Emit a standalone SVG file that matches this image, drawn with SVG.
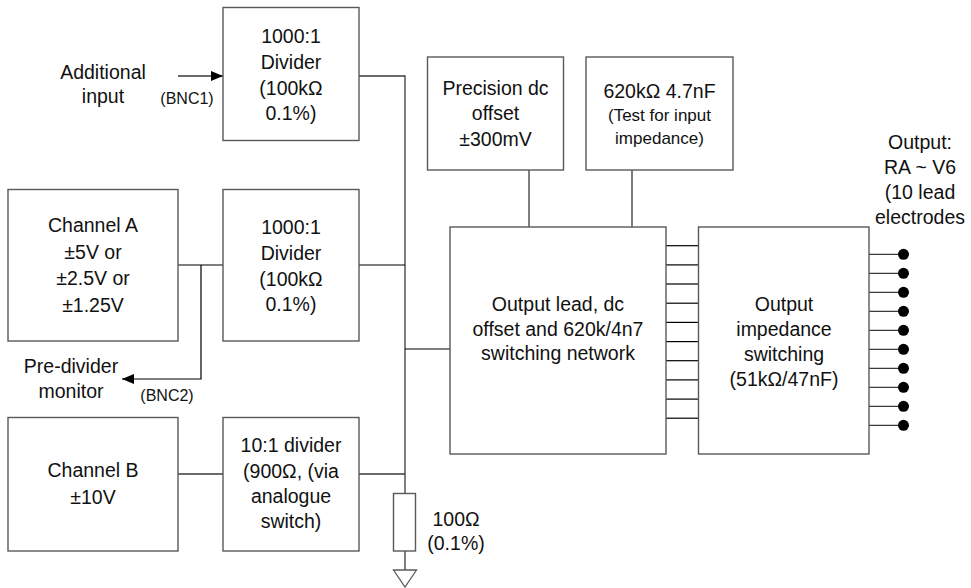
<svg xmlns="http://www.w3.org/2000/svg" width="971" height="588" viewBox="0 0 971 588">
<defs>
<style>
.box{fill:#fff;stroke:#595959;stroke-width:1.4}
.ln{fill:none;stroke:#3a3a3a;stroke-width:1.3}
.blk{fill:none;stroke:#000;stroke-width:1.2}
text{font-family:"Liberation Sans",Arial,sans-serif;font-size:19.5px;fill:#111;text-anchor:middle}
.sm{font-size:16px}
.md{font-size:17px}
.dot{fill:#000}
</style>
<marker id="arr" viewBox="0 0 12 10" refX="12" refY="5" markerWidth="12" markerHeight="10" markerUnits="userSpaceOnUse" orient="auto">
<path d="M0,0 L12,5 L0,10 z" fill="#000"/>
</marker>
</defs>
<rect width="971" height="588" fill="#fff"/>

<g id="connectors">
<line class="ln" x1="178" y1="76" x2="223" y2="76" marker-end="url(#arr)"/>
<polyline class="ln" points="359,76 405,76 405,493"/>
<line class="blk" x1="178" y1="265" x2="223" y2="265"/>
<polyline class="blk" points="201,265 201,379 122,379" marker-end="url(#arr)"/>
<line class="blk" x1="359" y1="265" x2="405" y2="265"/>
<line class="blk" x1="405" y1="349" x2="450" y2="349"/>
<line class="ln" x1="178" y1="474" x2="223" y2="474"/>
<line class="ln" x1="359" y1="474" x2="405" y2="474"/>
<line class="ln" x1="405" y1="551" x2="405" y2="570"/>
<line class="ln" x1="529" y1="170" x2="529" y2="227"/>
<line class="ln" x1="632" y1="170" x2="632" y2="227"/>
<g class="blk">
<line x1="666" y1="245.7" x2="698" y2="245.7"/>
<line x1="666" y1="264.9" x2="698" y2="264.9"/>
<line x1="666" y1="284" x2="698" y2="284"/>
<line x1="666" y1="303.2" x2="698" y2="303.2"/>
<line x1="666" y1="322.4" x2="698" y2="322.4"/>
<line x1="666" y1="341.6" x2="698" y2="341.6"/>
<line x1="666" y1="360.7" x2="698" y2="360.7"/>
<line x1="666" y1="379.9" x2="698" y2="379.9"/>
<line x1="666" y1="399.1" x2="698" y2="399.1"/>
<line x1="666" y1="418.2" x2="698" y2="418.2"/>
</g>
<g class="ln">
<line x1="869" y1="254.3" x2="903" y2="254.3"/>
<line x1="869" y1="273.3" x2="903" y2="273.3"/>
<line x1="869" y1="292.3" x2="903" y2="292.3"/>
<line x1="869" y1="311.3" x2="903" y2="311.3"/>
<line x1="869" y1="330.3" x2="903" y2="330.3"/>
<line x1="869" y1="349.3" x2="903" y2="349.3"/>
<line x1="869" y1="368.3" x2="903" y2="368.3"/>
<line x1="869" y1="387.3" x2="903" y2="387.3"/>
<line x1="869" y1="406.3" x2="903" y2="406.3"/>
<line x1="869" y1="425.3" x2="903" y2="425.3"/>
</g>
<g class="dot">
<circle cx="903.5" cy="254.3" r="5.5"/>
<circle cx="903.5" cy="273.3" r="5.5"/>
<circle cx="903.5" cy="292.3" r="5.5"/>
<circle cx="903.5" cy="311.3" r="5.5"/>
<circle cx="903.5" cy="330.3" r="5.5"/>
<circle cx="903.5" cy="349.3" r="5.5"/>
<circle cx="903.5" cy="368.3" r="5.5"/>
<circle cx="903.5" cy="387.3" r="5.5"/>
<circle cx="903.5" cy="406.3" r="5.5"/>
<circle cx="903.5" cy="425.3" r="5.5"/>
</g>
</g>

<g id="label-additional">
<text x="103" y="79">Additional</text>
<text x="103" y="103">input</text>
<text class="sm" x="187" y="104">(BNC1)</text>
</g>

<g id="divider1">
<rect class="box" x="223" y="7.5" width="136" height="133"/>
<text x="291" y="43">1000:1</text>
<text x="291" y="69">Divider</text>
<text x="291" y="95">(100kΩ</text>
<text x="291" y="120">0.1%)</text>
</g>

<g id="channelA">
<rect class="box" x="8" y="189.5" width="170" height="151.5"/>
<text x="93" y="232">Channel A</text>
<text x="93" y="259">±5V or</text>
<text x="93" y="285">±2.5V or</text>
<text x="93" y="311.5">±1.25V</text>
</g>

<g id="divider2">
<rect class="box" x="223" y="189.5" width="136" height="151.5"/>
<text x="291" y="234">1000:1</text>
<text x="291" y="260">Divider</text>
<text x="291" y="286">(100kΩ</text>
<text x="291" y="311">0.1%)</text>
</g>

<g id="label-predivider">
<text x="71" y="373">Pre-divider</text>
<text x="71" y="398">monitor</text>
<text class="sm" x="167" y="401">(BNC2)</text>
</g>

<g id="channelB">
<rect class="box" x="8" y="417.5" width="170" height="133.5"/>
<text x="93" y="477">Channel B</text>
<text x="93" y="504">±10V</text>
</g>

<g id="divider3">
<rect class="box" x="223" y="417.5" width="136" height="133.5"/>
<text x="291" y="452">10:1 divider</text>
<text x="291" y="478">(900Ω, (via</text>
<text x="291" y="503">analogue</text>
<text x="291" y="528">switch)</text>
</g>

<g id="resistor">
<rect class="box" x="393.5" y="493.5" width="22" height="57.5"/>
<text x="456" y="526">100Ω</text>
<text x="456" y="550">(0.1%)</text>
</g>

<g id="ground">
<path d="M393.5,570 L416.5,570 L405,587 z" fill="#fff" stroke="#595959" stroke-width="1.3"/>
</g>

<g id="precision">
<rect class="box" x="427.5" y="57" width="136" height="113"/>
<text x="495.5" y="95">Precision dc</text>
<text x="495.5" y="120">offset</text>
<text x="495.5" y="146">±300mV</text>
</g>

<g id="test620k">
<rect class="box" x="586" y="57" width="147" height="113"/>
<text x="659.5" y="98">620kΩ 4.7nF</text>
<text class="md" x="659.5" y="121">(Test for input</text>
<text class="md" x="659.5" y="144">impedance)</text>
</g>

<g id="outputlead">
<rect class="box" x="450" y="227" width="216" height="227"/>
<text x="558" y="311">Output lead, dc</text>
<text x="558" y="336">offset and 620k/4n7</text>
<text x="558" y="360">switching network</text>
</g>

<g id="outputimpedance">
<rect class="box" x="698.5" y="227" width="170.5" height="227"/>
<text x="784" y="311">Output</text>
<text x="784" y="336">impedance</text>
<text x="784" y="361">switching</text>
<text x="784" y="386">(51kΩ/47nF)</text>
</g>

<g id="label-output">
<text x="920" y="149">Output:</text>
<text x="920" y="174">RA ~ V6</text>
<text x="920" y="199">(10 lead</text>
<text x="920" y="224">electrodes</text>
</g>
</svg>
